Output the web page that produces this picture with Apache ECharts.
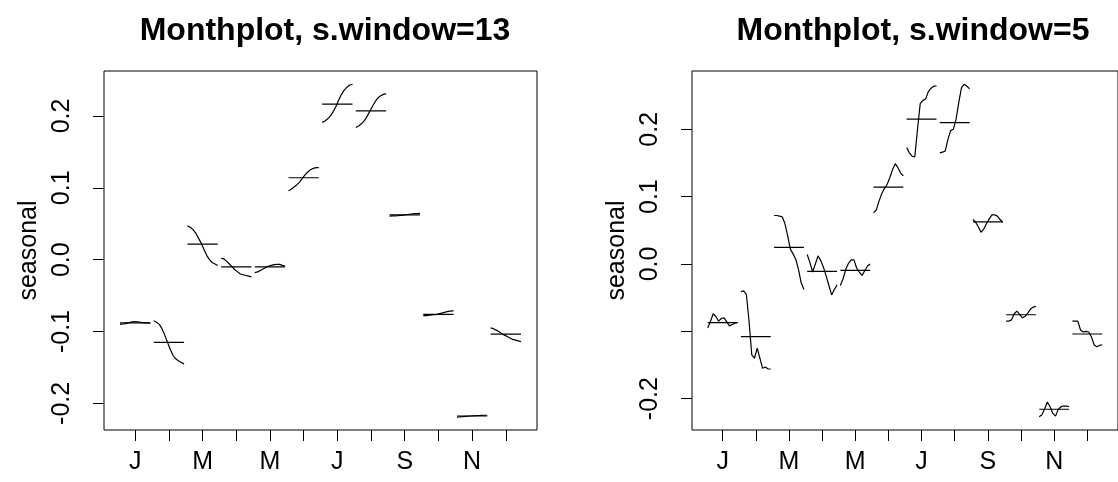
<!DOCTYPE html>
<html>
<head>
<meta charset="utf-8">
<script src="https://cdn.jsdelivr.net/npm/echarts@6/dist/echarts.min.js"></script>
<style>
  html, body { margin: 0; padding: 0; background: #fff; }
  #myChart { width: 1118px; height: 482px; }
</style>
</head>
<body>
<div id="myChart"></div>
<script>
// month letters under the x axis
var monthLetters = ['J', 'F', 'M', 'A', 'M', 'J', 'J', 'A', 'S', 'O', 'N', 'D'];
var monthLabelAt = [1, 3, 5, 7, 9, 11];

var titleLeft = 'Monthplot, s.window=13';
var titleRight = 'Monthplot, s.window=5';

var yTicks = [-0.2, -0.1, 0, 0.1, 0.2];
var yLabelsLeft = [-0.2, -0.1, 0, 0.1, 0.2];
var yLabelsRight = [-0.2, 0, 0.1, 0.2];

// seasonal sub-series, s.window = 13 (one row per month, successive years)
var sw13 = [
  [-0.090, -0.0895, -0.089, -0.088, -0.087, -0.086, -0.0865, -0.087, -0.0875, -0.088, -0.088, -0.0885],
  [-0.085, -0.087, -0.090, -0.096, -0.105, -0.115, -0.125, -0.133, -0.138, -0.141, -0.143, -0.145],
  [0.047, 0.045, 0.042, 0.037, 0.030, 0.023, 0.014, 0.006, 0.000, -0.004, -0.006, -0.008],
  [0.002, 0.001, -0.002, -0.006, -0.010, -0.014, -0.017, -0.020, -0.021, -0.022, -0.023, -0.024],
  [-0.018, -0.017, -0.015, -0.013, -0.011, -0.009, -0.008, -0.007, -0.0065, -0.0065, -0.008, -0.009],
  [0.096, 0.098, 0.101, 0.104, 0.108, 0.113, 0.118, 0.122, 0.125, 0.127, 0.128, 0.128],
  [0.191, 0.193, 0.196, 0.200, 0.206, 0.213, 0.222, 0.230, 0.236, 0.240, 0.243, 0.244],
  [0.184, 0.186, 0.189, 0.193, 0.199, 0.206, 0.213, 0.220, 0.225, 0.228, 0.230, 0.231],
  [0.0605, 0.0608, 0.061, 0.0613, 0.0617, 0.062, 0.0625, 0.063, 0.0635, 0.064, 0.0642, 0.0643],
  [-0.078, -0.0778, -0.0775, -0.077, -0.0765, -0.076, -0.075, -0.074, -0.073, -0.072, -0.0715, -0.071],
  [-0.219, -0.2188, -0.2185, -0.218, -0.2178, -0.2175, -0.2172, -0.217, -0.2168, -0.2166, -0.2165, -0.2165],
  [-0.095, -0.096, -0.098, -0.100, -0.103, -0.105, -0.107, -0.109, -0.111, -0.112, -0.113, -0.114]
];
var sw13Means = [-0.088, -0.115, 0.0215, -0.010, -0.010, 0.114, 0.2165, 0.207, 0.0623, -0.076, -0.2175, -0.1035];

// seasonal sub-series, s.window = 5
var sw5 = [
  [-0.095, -0.085, -0.074, -0.078, -0.085, -0.081, -0.080, -0.086, -0.092, -0.090, -0.088, -0.087],
  [-0.041, -0.040, -0.045, -0.085, -0.135, -0.140, -0.125, -0.140, -0.155, -0.153, -0.156, -0.156],
  [0.072, 0.072, 0.071, 0.070, 0.060, 0.042, 0.022, 0.015, 0.007, -0.008, -0.028, -0.038],
  [0.014, 0.002, -0.012, 0.000, 0.012, 0.005, -0.005, -0.018, -0.032, -0.046, -0.038, -0.031],
  [-0.032, -0.022, -0.008, 0.001, 0.006, 0.006, -0.006, -0.012, -0.017, -0.010, -0.003, 0.000],
  [0.076, 0.080, 0.093, 0.104, 0.112, 0.118, 0.128, 0.140, 0.149, 0.143, 0.135, 0.131],
  [0.173, 0.165, 0.160, 0.159, 0.200, 0.238, 0.243, 0.245, 0.256, 0.261, 0.264, 0.264],
  [0.165, 0.166, 0.168, 0.185, 0.198, 0.200, 0.215, 0.240, 0.262, 0.267, 0.264, 0.260],
  [0.066, 0.062, 0.055, 0.047, 0.052, 0.060, 0.067, 0.073, 0.073, 0.071, 0.066, 0.062],
  [-0.085, -0.085, -0.083, -0.074, -0.070, -0.075, -0.080, -0.078, -0.073, -0.067, -0.064, -0.063],
  [-0.227, -0.224, -0.215, -0.205, -0.212, -0.222, -0.226, -0.216, -0.212, -0.211, -0.211, -0.212],
  [-0.085, -0.085, -0.085, -0.098, -0.101, -0.100, -0.101, -0.108, -0.120, -0.123, -0.121, -0.120]
];
var sw5Means = [-0.087, -0.108, 0.0245, -0.011, -0.0095, 0.114, 0.215, 0.2098, 0.0625, -0.0754, -0.2158, -0.104];

var FONT = 'Liberation Sans';
var AXIS_FS = 25;

function subSeries(rows, means, idx) {
  var out = [];
  rows.forEach(function (vals, m) {
    var n = vals.length;
    var pts = vals.map(function (v, k) {
      return [m + 1 - 0.45 + k * 0.9 / (n - 1), v];
    });
    out.push({
      type: 'line', xAxisIndex: idx, yAxisIndex: idx, data: pts,
      showSymbol: false, silent: true, animation: false,
      lineStyle: { color: '#000', width: 1.2 }
    });
    out.push({
      type: 'line', xAxisIndex: idx, yAxisIndex: idx,
      data: [[m + 1 - 0.45, means[m]], [m + 1 + 0.45, means[m]]],
      showSymbol: false, silent: true, animation: false,
      lineStyle: { color: '#000', width: 1.2 }
    });
  });
  return out;
}

function xAx(idx) {
  return {
    type: 'value', gridIndex: idx, min: 0.074, max: 12.926, position: 'bottom',
    axisLine: { show: false, onZero: false }, splitLine: { show: false },
    axisTick: { show: true, length: 11, customValues: [1, 2, 3, 4, 5, 6, 7, 8, 9, 10, 11, 12],
      lineStyle: { color: '#000', width: 1 } },
    axisLabel: {
      customValues: monthLabelAt, margin: 20,
      fontFamily: FONT, fontSize: AXIS_FS, color: '#000',
      formatter: function (v) { return monthLetters[Math.round(v) - 1]; }
    }
  };
}

function yAx(idx, min, max, labels) {
  return {
    type: 'value', gridIndex: idx, min: min, max: max, position: 'left',
    name: 'seasonal', nameLocation: 'middle', nameGap: 62, nameRotate: 90,
    nameTextStyle: { fontFamily: FONT, fontSize: AXIS_FS, color: '#000' },
    axisLine: { show: false, onZero: false }, splitLine: { show: false },
    axisTick: { show: true, length: 11, customValues: yTicks,
      lineStyle: { color: '#000', width: 1 } },
    axisLabel: {
      customValues: labels, rotate: 90, margin: 29,
      fontFamily: FONT, fontSize: AXIS_FS, color: '#000',
      formatter: function (v) { return v.toFixed(1); }
    }
  };
}

var myChart = echarts.init(document.getElementById('myChart'));
var option = {
  backgroundColor: '#fff',
  animation: false,
  title: [
    { text: titleLeft, left: 320, top: 10, textAlign: 'center',
      textStyle: { fontFamily: FONT, fontSize: 32, fontWeight: 'bold', color: '#000' } },
    { text: titleRight, left: 908, top: 10, textAlign: 'center',
      textStyle: { fontFamily: FONT, fontSize: 32, fontWeight: 'bold', color: '#000' } }
  ],
  grid: [
    { left: 104, top: 71, width: 433, height: 359, show: true,
      borderColor: '#000', borderWidth: 1, backgroundColor: 'transparent' },
    { left: 692, top: 71, width: 433, height: 359, show: true,
      borderColor: '#000', borderWidth: 1, backgroundColor: 'transparent' }
  ],
  xAxis: [xAx(0), xAx(1)],
  yAxis: [yAx(0, -0.237, 0.2625, yLabelsLeft), yAx(1, -0.2466, 0.2866, yLabelsRight)],
  series: subSeries(sw13, sw13Means, 0).concat(subSeries(sw5, sw5Means, 1))
};
myChart.setOption(option);
</script>
</body>
</html>
